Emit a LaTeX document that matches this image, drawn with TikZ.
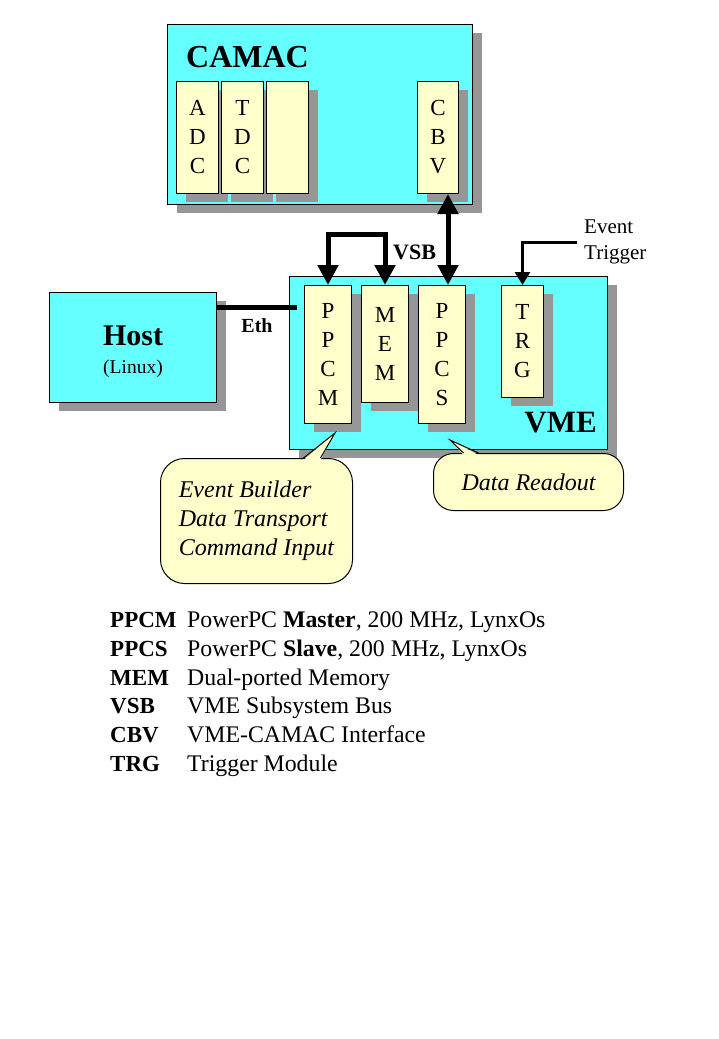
\documentclass[tikz,border=0pt]{standalone}
\usepackage{fontspec}
\setmainfont{Liberation Serif}
\usetikzlibrary{positioning,shadows,arrows.meta}
\definecolor{crate}{HTML}{66FFFF}
\definecolor{modfill}{HTML}{FFFFCC}
\definecolor{shade}{HTML}{969696}
\tikzset{
  shadowed/.style={drop shadow={shadow xshift=9pt,shadow yshift=-8pt,fill=shade,opacity=1}},
  cratebox/.style={draw, fill=crate, line width=1pt, inner sep=0pt, anchor=north west, shadowed},
  module/.style={draw, fill=modfill, line width=1pt, inner sep=0pt, align=center,
    minimum width=42pt, minimum height=112pt, font=\fontsize{23}{29}\selectfont, shadowed},
  bigmodule/.style={module, minimum width=47pt, minimum height=138pt},
  bubble/.style={draw, fill=modfill, line width=1pt, rounded corners=24pt, anchor=north west,
    align=left, font=\fontsize{24}{29}\selectfont\itshape},
  bus/.style={line width=5pt, >={Triangle[width=20pt,length=20pt]}},
  trig/.style={line width=3pt, >={Triangle[width=15pt,length=13pt]}},
  key/.style={anchor=base west, inner sep=0pt, font=\fontsize{23}{29}\selectfont\bfseries},
  desc/.style={anchor=base west, inner sep=0pt, font=\fontsize{23.8}{29}\selectfont}
}
\begin{document}
\begin{tikzpicture}[x=1pt,y=1pt]
\useasboundingbox (0,0) rectangle (719,-1039);

\node (camac) [cratebox, minimum width=305pt, minimum height=180pt] at (167,-24) {};
\node [anchor=base west, inner sep=0pt, font=\fontsize{32}{32}\selectfont\bfseries] at (186,-67) {CAMAC};
\node (adc) [module, anchor=north west] at (176,-81) {A\\D\\C};
\node (tdc) [module, right=2pt of adc] {T\\D\\C};
\node (slot) [module, right=2pt of tdc] {};
\node (cbv) [module, minimum width=41pt, anchor=north west] at (417,-81) {C\\B\\V};

\node (host) [cratebox, minimum width=167pt, minimum height=110pt] at (49,-292) {};
\node [anchor=base, inner sep=0pt, font=\fontsize{30}{30}\selectfont\bfseries] at ([yshift=2pt]host.center) {Host};
\node [anchor=base, inner sep=0pt, font=\fontsize{19.5}{19.5}\selectfont] at ([yshift=-26pt]host.center) {(Linux)};

\node (vme) [cratebox, minimum width=318pt, minimum height=173pt] at (289,-276) {};
\node [anchor=base east, inner sep=0pt, font=\fontsize{31}{31}\selectfont\bfseries] at (597,-432) {VME};
\node (ppcm) [bigmodule, anchor=north west] at (304,-285) {P\\P\\C\\M};
\node (mem) [bigmodule, minimum height=117pt, right=9pt of ppcm.north east, anchor=north west] {M\\E\\M};
\node (ppcs) [bigmodule, right=9pt of mem.north east, anchor=north west] {P\\P\\C\\S};
\node (trg) [module, right=35pt of ppcs.north east, anchor=north west] {T\\R\\G};

\coordinate (ethend) at (297,-307);
\draw[bus] ([yshift=-15pt]host.north east) -- (ethend);
\node [anchor=base, inner sep=0pt, font=\fontsize{20}{20}\selectfont\bfseries] at (257,-332) {Eth};

\draw[bus,<->,line join=miter] (ppcm.north) -- ++(0,50.5) -| (mem.north);
\node [anchor=base west, inner sep=0pt, font=\fontsize{22}{22}\selectfont\bfseries] at (393,-259) {VSB};
\coordinate (vbus) at (448,0);
\draw[bus,<->] (cbv.south -| vbus) -- (ppcs.north -| vbus);

\node (evtrig) [anchor=north west, inner sep=0pt, align=left, font=\fontsize{21}{26}\selectfont] at (584,-220) {Event\\Trigger};
\coordinate (trigin) at (577,-242);
\draw[trig,->,line join=miter] (trigin) -| (trg.north);

\node (tasks) [bubble, minimum width=192pt, minimum height=125pt] at (160,-458) {Event Builder\\Data Transport\\Command Input};
\coordinate (tip1) at (335,-433);
\fill[modfill] ([xshift=47pt,yshift=-2pt]tasks.north) -- (tip1) -- ([xshift=64pt,yshift=-2pt]tasks.north) -- cycle;
\draw[line width=1pt] ([xshift=47pt]tasks.north) -- (tip1) -- ([xshift=64pt]tasks.north);

\node (readout) [bubble, rounded corners=20pt, minimum width=190pt, minimum height=57pt] at (433,-453) {Data Readout};
\coordinate (tip2) at (450,-440);
\fill[modfill] ([xshift=-65pt,yshift=-2pt]readout.north) -- (tip2) -- ([xshift=-50pt,yshift=-2pt]readout.north) -- cycle;
\draw[line width=1pt] ([xshift=-65pt]readout.north) -- (tip2) -- ([xshift=-50pt]readout.north);

\node (kppcm) [key] at (110,-627) {PPCM};
\node (kppcs) [key] at (110,-656) {PPCS};
\node (kmem) [key] at (110,-685) {MEM};
\node (kvsb) [key] at (110,-713) {VSB};
\node (kcbv) [key] at (110,-742) {CBV};
\node (ktrg) [key] at (110,-771) {TRG};
\node (dppcm) [desc] at (187,-627) {PowerPC \textbf{Master}, 200 MHz, LynxOs};
\node (dppcs) [desc] at (187,-656) {PowerPC \textbf{Slave}, 200 MHz, LynxOs};
\node (dmem) [desc] at (187,-685) {Dual-ported Memory};
\node (dvsb) [desc] at (187,-713) {VME Subsystem Bus};
\node (dcbv) [desc] at (187,-742) {VME-CAMAC Interface};
\node (dtrg) [desc] at (187,-771) {Trigger Module};
\end{tikzpicture}
\end{document}
